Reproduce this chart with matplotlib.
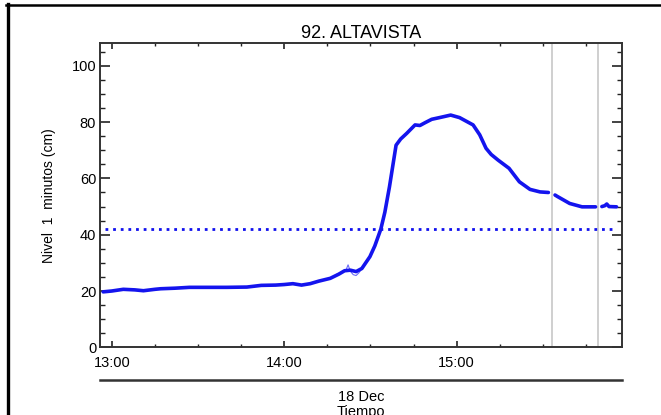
import numpy as np
import matplotlib
matplotlib.use('Agg')
import matplotlib.pyplot as plt
from matplotlib.ticker import MultipleLocator, FuncFormatter
from matplotlib.lines import Line2D

plt.rcParams['font.family'] = ['Liberation Sans', 'DejaVu Sans']

# minutes after 13:00 (18 Dec), water level in cm; nan = gap in the record
minutes = [-3, 0, 4, 8, 11, 15, 17, 22, 27, 40, 47, 52, 57, 60, 63, 66, 69,
           72, 76, 79, 81, 83, 85, 87, 89.8, 91.5, 93.6, 95, 96.6, 98.9,
           100.5, 102.6, 105.5, 107.2, 109, 111.3, 114, 117.9, 121, 125.7,
           128, 130.2, 132, 134.4, 138.2, 141.8, 145.5, 149, 151.9, 152.5,
           154.2, 155, 159.3, 163.6, 165.8, 168.3, 168.8,
           170.5, 171.5, 172.2, 173, 175.6]
level = [19.7, 20.0, 20.6, 20.4, 20.1, 20.6, 20.8, 21.0, 21.3, 21.3, 21.4,
         22.0, 22.1, 22.3, 22.6, 22.1, 22.6, 23.5, 24.5, 26.0, 27.2, 27.4,
         26.9, 28.0, 32.2, 36.0, 42.0, 48.0, 57.0, 71.8,
         74.0, 76.0, 79.0, 78.8, 79.8, 81.0, 81.6, 82.5, 81.6, 79.0,
         75.5, 70.7, 68.5, 66.5, 63.6, 58.8, 56.1, 55.2, 55.0, np.nan,
         54.1, 53.6, 51.1, 49.9, 49.9, 49.9, np.nan,
         50.0, 50.3, 50.9, 50.0, 49.9]

# raw 1-minute trace where it departs from the smoothed one
raw_minutes = [78, 80, 81.5, 82.2, 83, 84, 85, 86, 88]
raw_level = [25.8, 26.8, 27.5, 29.3, 27.0, 25.8, 25.5, 26.5, 29.5]

threshold = 42
gray_marks = [153.0, 169.0]

fig = plt.figure(figsize=(6.61, 4.15), dpi=100)
ax = fig.add_axes([100.3 / 661, 1 - 347.3 / 415, 521.4 / 661, 304 / 415])

for m in gray_marks:
    ax.axvline(m, color='#cccccc', lw=1.3, zorder=1)

ax.plot([-2.5, 175.5], [threshold, threshold], color='#1010ee', lw=2.0,
        linestyle=(0, (1, 1.75)), zorder=2)
ax.plot(raw_minutes, raw_level, color='#6a6af5', lw=0.8, zorder=3)
ax.plot(minutes, level, color='#1414ee', lw=2.6, solid_capstyle='round',
        solid_joinstyle='round', zorder=4)

ax.set_xlim(-4, 177.4)
ax.set_ylim(0, 108)

ax.xaxis.set_major_locator(MultipleLocator(60))
ax.xaxis.set_minor_locator(MultipleLocator(15))
ax.xaxis.set_major_formatter(
    FuncFormatter(lambda v, p: '{:02d}:{:02d}'.format(13 + int(v) // 60, int(v) % 60)))
ax.yaxis.set_major_locator(MultipleLocator(20))
ax.yaxis.set_minor_locator(MultipleLocator(5))

ax.tick_params(axis='both', which='both', direction='in', top=True,
               right=True, color='#222222', labelsize=10.5)
ax.tick_params(axis='y', which='major', length=7, width=1.2, pad=3)
ax.tick_params(axis='y', which='minor', length=3.6, width=1.0)
ax.tick_params(axis='x', which='major', length=4, width=1.2, pad=6)
ax.tick_params(axis='x', which='minor', length=2.5, width=1.0)
for s in ax.spines.values():
    s.set_color('#333333')
    s.set_linewidth(1.4)

ax.set_title('92. ALTAVISTA', fontsize=13, pad=4)
ax.set_ylabel('Nivel  1  minutos (cm)', fontsize=10, labelpad=11)

# date bar and labels beneath the axis
fig.add_artist(Line2D([100.3 / 661, 621.7 / 661], [1 - 380 / 415] * 2,
                      color='#333333', lw=1.8))
fig.text(361 / 661, 1 - 397 / 415, '18 Dec', ha='center', va='center',
         fontsize=10.5)
fig.text(361 / 661, 1 - 405 / 415, 'Tiempo', ha='center', va='top',
         fontsize=10.5)

# outer frame (left and top edges)
fig.add_artist(Line2D([7.5 / 661, 7.5 / 661], [0, 1 - 4 / 415],
                      color='black', lw=2.4))
fig.add_artist(Line2D([6 / 661, 1], [1 - 5.3 / 415] * 2,
                      color='black', lw=1.8))

fig.savefig('out.png', dpi=100)
